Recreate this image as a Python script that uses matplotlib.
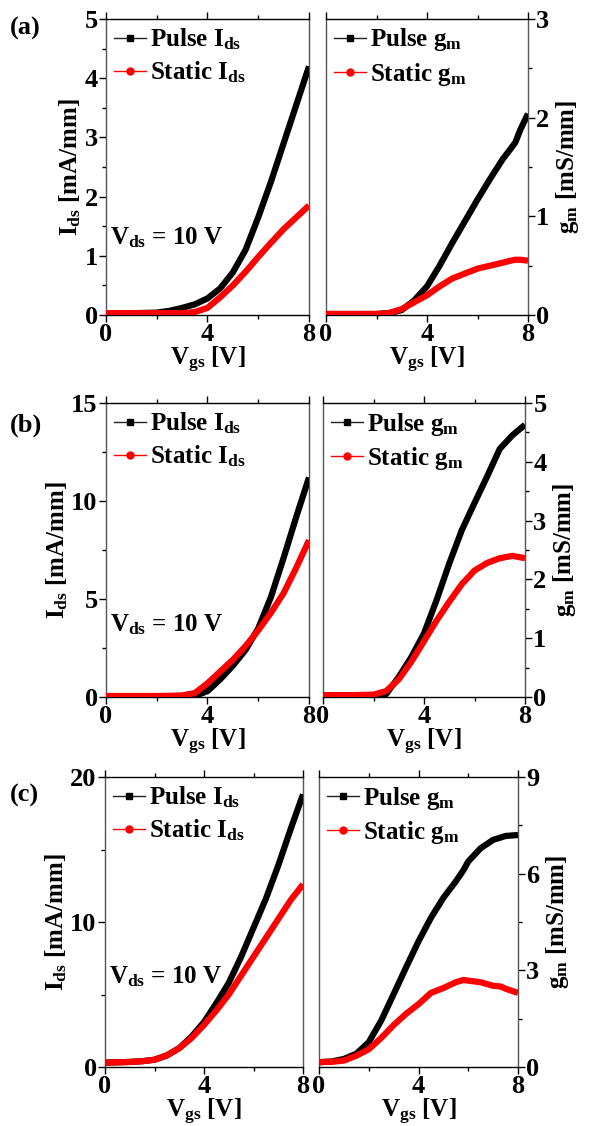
import matplotlib
matplotlib.use("Agg")
import matplotlib.pyplot as plt
from matplotlib.lines import Line2D
from matplotlib.ticker import MultipleLocator

plt.rcParams['font.family'] = 'Liberation Serif'
plt.rcParams['font.weight'] = 'bold'
plt.rcParams['axes.labelweight'] = 'bold'
plt.rcParams['mathtext.fontset'] = 'custom'
plt.rcParams['mathtext.rm'] = 'Liberation Serif:bold'
plt.rcParams['mathtext.it'] = 'Liberation Serif:bold'
plt.rcParams['mathtext.bf'] = 'Liberation Serif:bold'

# ---- data (Vgs in V) ----
# (a)
vgs_a_ids = [0, 1, 2, 2.5, 3, 3.5, 4, 4.5, 5, 5.5, 6, 6.5, 7, 7.5, 8]
pulse_ids_a = [0.03, 0.03, 0.04, 0.07, 0.12, 0.18, 0.28, 0.45, 0.72, 1.1, 1.65, 2.25, 2.9, 3.55, 4.2]
static_ids_a = [0.03, 0.03, 0.03, 0.03, 0.03, 0.05, 0.12, 0.3, 0.5, 0.73, 0.98, 1.22, 1.45, 1.65, 1.85]
vgs_a_gm = [0, 1, 2, 2.5, 3, 3.5, 4, 4.5, 5, 5.5, 6, 6.5, 7, 7.3, 7.5, 7.7, 8]
pulse_gm_a = [0.01, 0.01, 0.01, 0.02, 0.05, 0.15, 0.29, 0.5, 0.73, 0.95, 1.17, 1.38, 1.58, 1.68, 1.75, 1.88, 2.04]
static_gm_a = [0.01, 0.01, 0.01, 0.02, 0.06, 0.13, 0.2, 0.29, 0.37, 0.42, 0.47, 0.5, 0.53, 0.55, 0.56, 0.56, 0.55]

# (b)
vgs_b = [0, 1, 2, 2.5, 3, 3.5, 4, 4.5, 5, 5.5, 6, 6.5, 7, 7.5, 8]
pulse_ids_b = [0.02, 0.02, 0.02, 0.02, 0.02, 0.05, 0.3, 0.9, 1.6, 2.4, 3.5, 5.1, 7.1, 9.2, 11.2]
static_ids_b = [0.05, 0.05, 0.05, 0.06, 0.08, 0.2, 0.7, 1.3, 1.9, 2.6, 3.4, 4.3, 5.3, 6.6, 8.0]
pulse_gm_b = [0.03, 0.03, 0.03, 0.05, 0.34, 0.68, 1.08, 1.65, 2.27, 2.84, 3.3, 3.75, 4.22, 4.45, 4.63]
static_gm_b = [0.03, 0.03, 0.04, 0.1, 0.3, 0.6, 0.95, 1.3, 1.62, 1.92, 2.15, 2.28, 2.36, 2.4, 2.36]

# (c)
vgs_c = [0, 1, 1.5, 2, 2.5, 3, 3.5, 4, 4.5, 5, 5.5, 6, 6.5, 7, 7.5, 8]
pulse_ids_c = [0.3, 0.35, 0.4, 0.5, 0.8, 1.3, 2.1, 3.1, 4.4, 5.8, 7.6, 9.6, 11.6, 13.9, 16.4, 18.8]
static_ids_c = [0.3, 0.35, 0.4, 0.5, 0.8, 1.3, 2.0, 2.9, 3.9, 5.0, 6.3, 7.6, 8.9, 10.2, 11.5, 12.6]
vgs_c_gm = [0, 0.5, 1, 1.5, 2, 2.5, 3, 3.5, 4, 4.5, 5, 5.5, 5.8, 6, 6.5, 7, 7.3, 7.5, 8]
pulse_gm_c = [0.15, 0.17, 0.25, 0.41, 0.77, 1.44, 2.26, 3.09, 3.9, 4.63, 5.25, 5.76, 6.1, 6.38, 6.79, 7.05, 7.12, 7.17, 7.2]
static_gm_c = [0.15, 0.16, 0.2, 0.35, 0.55, 0.9, 1.3, 1.65, 1.95, 2.3, 2.45, 2.63, 2.7, 2.68, 2.63, 2.52, 2.5, 2.43, 2.3]

W, H = 596, 1126


def rect(x0, x1, y0, y1):
    return [x0 / W, 1 - y1 / H, (x1 - x0) / W, (y1 - y0) / H]


def style_axis(ax, ymax, ymajor, right=False):
    ax.set_xlim(0, 8)
    ax.set_ylim(0, ymax)
    ax.xaxis.set_major_locator(MultipleLocator(4))
    ax.xaxis.set_minor_locator(MultipleLocator(2))
    ax.yaxis.set_major_locator(MultipleLocator(ymajor))
    ax.yaxis.set_minor_locator(MultipleLocator(ymajor / 2))
    for s in ax.spines.values():
        s.set_linewidth(1.0)
    ax.spines['left'].set_color('#555555')
    ax.spines['right'].set_color('#555555')
    ax.tick_params(axis='x', which='major', direction='out', length=5, width=1, labelsize=19, pad=1)
    ax.tick_params(axis='x', which='minor', direction='out', length=3, width=1)
    ax.tick_params(axis='y', which='major', direction='out', length=5, width=1, labelsize=19, pad=1)
    ax.tick_params(axis='y', which='minor', direction='out', length=3, width=1)
    ax.tick_params(axis='x', which='both', top=True)
    if right:
        ax.yaxis.tick_right()
        ax.yaxis.set_label_position('right')
        ax.tick_params(axis='y', which='both', left=False, right=True)
    for lab in ax.get_xticklabels() + ax.get_yticklabels():
        lab.set_fontweight('bold')
    ax.set_xlabel(r'V$_{\mathrm{gs}}$ [V]', fontsize=18, fontweight='bold', labelpad=-1)


def add_legend(ax, what):
    handles = [Line2D([], [], color='#222222', lw=1, marker='s', markersize=5,
                      markerfacecolor='black', markeredgecolor='black'),
               Line2D([], [], color='red', lw=1, marker='o', markersize=5)]
    labels = ['Pulse ' + what, 'Static ' + what]
    leg = ax.legend(handles, labels, loc='upper left', frameon=False, fontsize=18,
                    handlelength=1.3, handletextpad=0.15, labelspacing=0.3,
                    borderaxespad=0.2, borderpad=0.1)
    for t in leg.get_texts():
        t.set_fontweight('bold')


fig = plt.figure(figsize=(W / 100, H / 100), dpi=100)

rows = [
    ((106, 309, 326, 528, 19, 315), 5, 1, 3, 1, 0.26, '(a)', 28,
     (vgs_a_ids, pulse_ids_a, static_ids_a), (vgs_a_gm, pulse_gm_a, static_gm_a)),
    ((106, 309, 323, 525, 403, 697), 15, 5, 5, 1, 0.245, '(b)', 425,
     (vgs_b, pulse_ids_b, static_ids_b), (vgs_b, pulse_gm_b, static_gm_b)),
    ((105, 303, 319, 518, 777, 1067), 20, 10, 9, 3, 0.31, '(c)', 795,
     (vgs_c, pulse_ids_c, static_ids_c), (vgs_c_gm, pulse_gm_c, static_gm_c)),
]

for pos, ymax_i, ymaj_i, ymax_g, ymaj_g, vds_y, tag, tag_y, ids, gm in rows:
    lx0, lx1, rx0, rx1, y0, y1 = pos
    ax1 = fig.add_axes(rect(lx0, lx1, y0, y1))
    ax2 = fig.add_axes(rect(rx0, rx1, y0, y1))

    ax1.plot(ids[0], ids[1], color='black', lw=4.5, solid_capstyle='butt',
             solid_joinstyle='round', zorder=3)
    ax1.plot(ids[0], ids[2], color='red', lw=4.5, solid_capstyle='butt',
             solid_joinstyle='round', zorder=4)
    ax2.plot(gm[0], gm[1], color='black', lw=4.5, solid_capstyle='butt',
             solid_joinstyle='round', zorder=3)
    ax2.plot(gm[0], gm[2], color='red', lw=4.5, solid_capstyle='butt',
             solid_joinstyle='round', zorder=4)

    style_axis(ax1, ymax_i, ymaj_i)
    style_axis(ax2, ymax_g, ymaj_g, right=True)
    ax1.set_ylabel(r'I$_{\mathrm{ds}}$ [mA/mm]', fontsize=18, fontweight='bold', labelpad=1)
    ax2.set_ylabel(r'g$_{\mathrm{m}}$ [mS/mm]', fontsize=18, fontweight='bold', labelpad=3)

    add_legend(ax1, r'I$_{\mathrm{ds}}$')
    add_legend(ax2, r'g$_{\mathrm{m}}$')

    ax1.text(0.02, vds_y, r'V$_{\mathrm{ds}}$ = 10 V', transform=ax1.transAxes,
             fontsize=18, fontweight='bold', ha='left', va='center')
    fig.text(10 / W, 1 - tag_y / H, tag, fontsize=19, fontweight='bold', ha='left', va='center')

fig.savefig('out.png', dpi=100)
